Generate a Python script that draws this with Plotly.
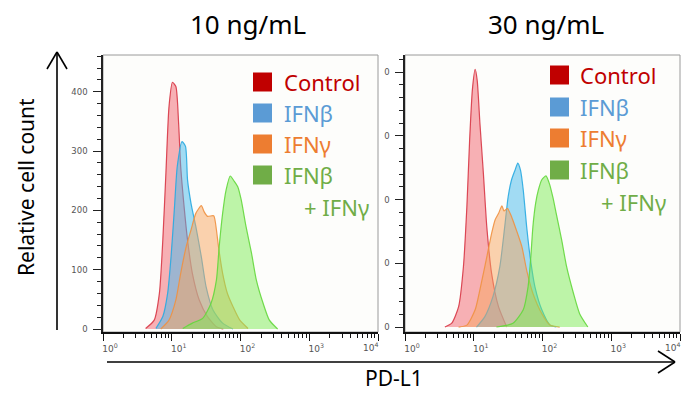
import plotly.graph_objects as go

W, H = 683, 394

# ---------------- data (log10 PD-L1 intensity, relative cell count) ----------------
series_names = ["Control", "IFNβ", "IFNγ", "IFNβ + IFNγ"]
legend_lines = [["Control"], ["IFNβ"], ["IFNγ"], ["IFNβ", "+ IFNγ"]]
panel_titles = ["10 ng/mL", "30 ng/mL"]

# 10 ng/mL panel
ctrl10_log = [0.62, 0.745, 0.82, 0.87, 0.915, 0.96, 1.01, 1.06, 1.10, 1.13, 1.18, 1.23, 1.30, 1.40, 1.52, 1.65, 1.75]
ctrl10_cnt = [1, 15, 60, 150, 263, 375, 416, 409, 347, 274, 206, 150, 94, 49, 21, 4, 0]
beta10_log = [0.77, 0.87, 0.94, 0.99, 1.04, 1.08, 1.15, 1.20, 1.23, 1.28, 1.35, 1.43, 1.50, 1.60, 1.74, 1.89]
beta10_cnt = [1, 21, 60, 122, 206, 274, 316, 308, 251, 212, 173, 122, 71, 32, 10, 0]
gamma10_log = [0.84, 0.96, 1.06, 1.13, 1.21, 1.28, 1.35, 1.43, 1.47, 1.52, 1.61, 1.65, 1.68, 1.74, 1.81, 1.89, 1.99, 2.11]
gamma10_cnt = [0, 15, 49, 94, 139, 167, 195, 208, 198, 190, 191, 167, 139, 94, 60, 38, 15, 1]
combo10_log = [1.16, 1.30, 1.45, 1.57, 1.65, 1.69, 1.74, 1.79, 1.85, 1.91, 1.96, 2.01, 2.08, 2.16, 2.23, 2.33, 2.42, 2.54]
combo10_cnt = [1, 10, 18, 43, 83, 139, 195, 234, 258, 249, 240, 218, 173, 128, 83, 43, 15, 0]

# 30 ng/mL panel
ctrl30_log = [0.58, 0.68, 0.78, 0.85, 0.90, 0.94, 0.98, 1.02, 1.05, 1.09, 1.14, 1.19, 1.26, 1.36, 1.48]
ctrl30_cnt = [0, 6, 32, 95, 189, 293, 372, 404, 387, 319, 241, 157, 84, 32, 0]
beta30_log = [1.04, 1.16, 1.28, 1.38, 1.45, 1.50, 1.55, 1.60, 1.64, 1.68, 1.72, 1.77, 1.82, 1.89, 1.99, 2.11, 2.20]
beta30_cnt = [0, 16, 48, 95, 157, 204, 231, 246, 257, 246, 215, 157, 110, 63, 27, 3, 0]
gamma30_log = [0.78, 0.90, 1.02, 1.11, 1.19, 1.26, 1.31, 1.36, 1.41, 1.44, 1.49, 1.55, 1.62, 1.70, 1.77, 1.86, 1.99, 2.11, 2.25]
gamma30_cnt = [0, 3, 27, 69, 110, 147, 168, 178, 190, 182, 186, 173, 152, 126, 89, 53, 21, 3, 0]
combo30_log = [1.33, 1.57, 1.72, 1.79, 1.83, 1.86, 1.90, 1.94, 1.99, 2.05, 2.10, 2.15, 2.20, 2.28, 2.35, 2.45, 2.54, 2.66]
combo30_cnt = [0, 6, 27, 63, 110, 157, 194, 215, 231, 237, 225, 204, 178, 136, 95, 53, 21, 0]

y_tickvals = [0, 100, 200, 300, 400]
y_ticktext_left = ["0", "100", "200", "300", "400"]
y_ticktext_right = ["0", "0", "0", "0", "0"]   # labels cropped in the original
x_tickvals = [1, 10, 100, 1000, 10000]
x_ticktext = ["10<sup>0</sup>", "10<sup>1</sup>", "10<sup>2</sup>", "10<sup>3</sup>", ""]
x_last_label = "10<sup>4</sup>"
x_minor = [m * 10 ** d for d in range(4) for m in range(2, 10)]

# ---------------- styles ----------------
legend_colors = ["#C00000", "#5B9BD5", "#ED7D31", "#70AD47"]
fill_colors = ["rgba(242,105,115,0.52)", "rgba(70,185,235,0.50)",
               "rgba(248,165,95,0.50)", "rgba(125,235,85,0.50)"]
edge_colors = ["rgba(215,55,70,0.9)", "rgba(40,170,225,0.9)",
               "rgba(240,145,65,0.9)", "rgba(100,215,60,0.9)"]

def px(x):
    return x / W

def py(y):
    return 1 - y / H

fig = go.Figure()

panels = [
    ("x", "y", [(ctrl10_log, ctrl10_cnt), (beta10_log, beta10_cnt), (gamma10_log, gamma10_cnt), (combo10_log, combo10_cnt)]),
    ("x2", "y2", [(ctrl30_log, ctrl30_cnt), (beta30_log, beta30_cnt), (gamma30_log, gamma30_cnt), (combo30_log, combo30_cnt)]),
]
for xa, ya, data in panels:
    for i, (lx, cnt) in enumerate(data):
        fig.add_trace(go.Scatter(
            x=[10 ** v for v in lx], y=cnt, xaxis=xa, yaxis=ya,
            mode="lines", line=dict(color=edge_colors[i], width=1.2, shape="spline", smoothing=0.6),
            fill="tozeroy", fillcolor=fill_colors[i], name=series_names[i], showlegend=False,
            hoverinfo="skip"))

ydom = [py(332), py(55)]
dom_left = [px(103), px(378)]
dom_right = [px(405), px(680)]

tick_font = dict(family="DejaVu Sans", size=9, color="#555")
xcommon = dict(type="log", range=[0, 4], tickmode="array", tickvals=x_tickvals, ticktext=x_ticktext,
               ticks="outside", ticklen=7, tickwidth=1.3, tickcolor="#111", automargin=False,
               showline=True, linecolor="#111", linewidth=2, showgrid=False, zeroline=False,
               tickfont=tick_font, ticklabelshift=7,
               minor=dict(tickvals=x_minor, ticks="outside", ticklen=3.5, tickwidth=1, tickcolor="#111"))
ycommon = dict(tickmode="array", tickvals=y_tickvals, ticks="outside", ticklen=8, tickwidth=1.3,
               tickcolor="#222", showline=True, linecolor="#222", linewidth=1.5, showgrid=False,
               zeroline=False, tickfont=dict(family="DejaVu Sans", size=8.5, color="#555"),
               ticklabelstandoff=4, automargin=False,
               minor=dict(dtick=20, tick0=0, ticks="outside", ticklen=4, tickwidth=1, tickcolor="#222"))

fig.update_layout(
    width=W, height=H, margin=dict(l=0, r=0, t=0, b=0, autoexpand=False),
    paper_bgcolor="white", plot_bgcolor="#fdfdfb",
    xaxis=dict(domain=dom_left, anchor="y", **xcommon),
    yaxis=dict(domain=ydom, anchor="x", range=[-5, 462], ticktext=y_ticktext_left, **ycommon),
    xaxis2=dict(domain=dom_right, anchor="y2", **xcommon),
    yaxis2=dict(domain=ydom, anchor="x2", range=[-7.8, 426.7], ticktext=y_ticktext_right, **ycommon),
)

shapes = []
# light frame around plot areas
for xr, yr in [("x domain", "y domain"), ("x2 domain", "y2 domain")]:
    shapes.append(dict(type="rect", xref=xr, yref=yr, x0=0, x1=1, y0=0, y1=1,
                       line=dict(color="#9a9a9a", width=1), layer="below"))

arrow = dict(color="black", width=1.6)
# vertical arrow (Relative cell count)
shapes += [
    dict(type="line", xref="paper", yref="paper", x0=px(57), x1=px(57), y0=py(330), y1=py(52), line=arrow),
    dict(type="line", xref="paper", yref="paper", x0=px(47), x1=px(57), y0=py(69), y1=py(52), line=arrow),
    dict(type="line", xref="paper", yref="paper", x0=px(67), x1=px(57), y0=py(69), y1=py(52), line=arrow),
]
# horizontal arrow (PD-L1)
shapes += [
    dict(type="line", xref="paper", yref="paper", x0=px(107), x1=px(675), y0=py(362), y1=py(362), line=arrow),
    dict(type="line", xref="paper", yref="paper", x0=px(658), x1=px(675), y0=py(351), y1=py(362), line=arrow),
    dict(type="line", xref="paper", yref="paper", x0=px(658), x1=px(675), y0=py(373), y1=py(362), line=arrow),
]

annotations = []
# last decade label, pulled inside the frame as in the original
for xa, ya in [("x", "y"), ("x2", "y2")]:
    annotations.append(dict(text=x_last_label, x=4, y=0, xref=xa, yref=ya + " domain", showarrow=False,
                            xanchor="right", yanchor="top", yshift=-7, xshift=2, font=tick_font))

title_font = dict(family="Noto Sans", size=26, color="black")
annotations.append(dict(text=panel_titles[0], x=px(248), y=py(24), xref="paper", yref="paper",
                        showarrow=False, xanchor="center", yanchor="middle", font=title_font))
annotations.append(dict(text=panel_titles[1], x=px(546), y=py(24), xref="paper", yref="paper",
                        showarrow=False, xanchor="center", yanchor="middle", font=title_font))
annotations.append(dict(text="Relative cell count", x=px(26), y=py(187), xref="paper", yref="paper",
                        showarrow=False, textangle=-90, xanchor="center", yanchor="middle",
                        font=dict(family="Noto Sans", size=21, color="black")))
annotations.append(dict(text="PD-L1", x=px(394), y=0, xref="paper", yref="paper",
                        showarrow=False, xanchor="center", yanchor="bottom",
                        font=dict(family="Noto Sans", size=21, color="black")))

# custom legends (square + coloured text)
legend_specs = [
    dict(sq_x=253, text_x=282, cont_x=302, rows=[82, 113, 144, 175], cont_y=207),
    dict(sq_x=550, text_x=578, cont_x=599, rows=[75, 107, 138, 170], cont_y=202),
]
for spec in legend_specs:
    for i, lines in enumerate(legend_lines):
        yc = spec["rows"][i]
        shapes.append(dict(type="rect", xref="paper", yref="paper",
                           x0=px(spec["sq_x"]), x1=px(spec["sq_x"] + 19),
                           y0=py(yc + 9.5), y1=py(yc - 9.5),
                           fillcolor=legend_colors[i], line=dict(width=0)))
        annotations.append(dict(text=lines[0], x=px(spec["text_x"]), y=py(yc), xref="paper", yref="paper",
                                showarrow=False, xanchor="left", yanchor="middle",
                                font=dict(family="Noto Sans", size=22, color=legend_colors[i])))
        if len(lines) > 1:
            annotations.append(dict(text=lines[1], x=px(spec["cont_x"]), y=py(spec["cont_y"]),
                                    xref="paper", yref="paper", showarrow=False,
                                    xanchor="left", yanchor="middle",
                                    font=dict(family="Noto Sans", size=22, color=legend_colors[i])))

fig.update_layout(shapes=shapes, annotations=annotations)
fig.write_html("out.html", config={"displayModeBar": False},
               post_script="document.body.style.margin='0';document.body.style.overflow='hidden';")
